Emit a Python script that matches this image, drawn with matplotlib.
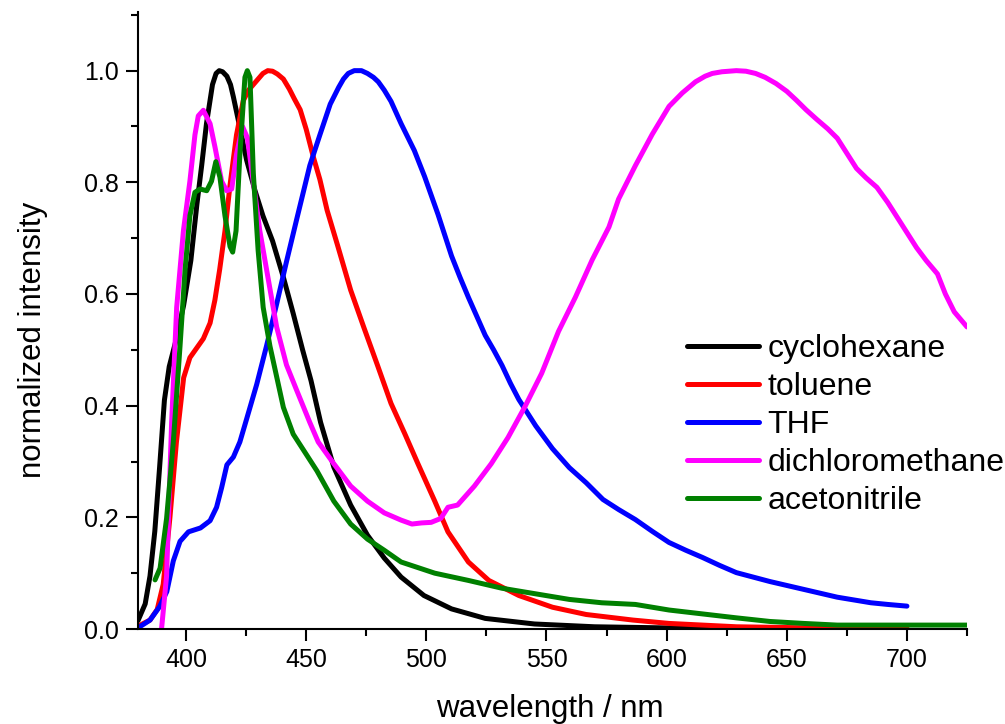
import matplotlib
matplotlib.use('Agg')
import matplotlib.pyplot as plt
from matplotlib.ticker import MultipleLocator

plt.rcParams['font.family'] = ['Liberation Sans', 'DejaVu Sans']

# cyclohexane
wl_cyc = [380, 381, 383, 385, 387, 389, 391, 393, 396, 399, 402, 404.5, 406.5, 408.5, 411,
          412.5, 413.8, 415.2, 417, 418.5, 419.7, 422.4, 425.2, 428.7, 432, 436, 440.5, 444.6,
          448.5, 452, 456, 461.5, 468.5, 475.5, 482.5, 489.5, 499, 510.5, 524.5, 545, 570,
          600, 650, 700]
int_cyc = [0.015, 0.025, 0.045, 0.095, 0.175, 0.29, 0.41, 0.47, 0.52, 0.58, 0.66, 0.76, 0.83,
           0.905, 0.975, 0.995, 1.0, 0.998, 0.99, 0.975, 0.953, 0.898, 0.84, 0.785, 0.74,
           0.695, 0.63, 0.565, 0.5, 0.445, 0.37, 0.29, 0.222, 0.168, 0.127, 0.093, 0.06,
           0.036, 0.019, 0.009, 0.004, 0.002, 0.001, 0.0]

# toluene
wl_tol = [380, 385, 388, 390.5, 393.3, 396, 399, 401.6, 404.4, 407.2, 410, 412, 414, 416.2,
          418.3, 421, 423.8, 426, 428, 430, 432, 434, 436, 438, 440.5, 443, 445, 447.5, 450,
          453, 455.7, 458.7, 463, 468.5, 474, 479.7, 485.3, 491, 496.5, 503.5, 509, 517.5,
          526, 538.5, 552.5, 566.5, 586, 601, 629, 660, 700]
int_tol = [0.005, 0.016, 0.035, 0.08, 0.2, 0.335, 0.45, 0.486, 0.503, 0.52, 0.548, 0.589,
           0.644, 0.713, 0.795, 0.885, 0.946, 0.965, 0.975, 0.985, 0.995, 1.0, 0.999, 0.994,
           0.985, 0.967, 0.95, 0.93, 0.895, 0.845, 0.805, 0.75, 0.688, 0.607, 0.54, 0.472,
           0.404, 0.35, 0.296, 0.229, 0.174, 0.12, 0.087, 0.06, 0.039, 0.026, 0.016, 0.01,
           0.004, 0.002, 0.001]

# THF
wl_thf = [380, 385, 389, 392, 394.7, 397.5, 401, 406, 410, 412.7, 414.8, 417, 419.7, 422.4,
          425.2, 429.4, 433.5, 437.7, 441.8, 446, 451.5, 455.7, 460, 463.5, 465.5, 467.5,
          470, 473, 475.5, 478, 480, 482.5, 485.3, 489.5, 495, 499.3, 504.9, 510.5, 514,
          517.5, 521, 524.5, 528, 531.5, 535, 538.5, 545.5, 552.5, 559.5, 566.5, 573.5, 580,
          587, 594, 601, 608, 615, 622, 629, 636, 643, 650, 657, 664, 671, 678, 685, 692,
          700]
int_thf = [0.002, 0.016, 0.04, 0.067, 0.122, 0.157, 0.174, 0.181, 0.194, 0.218, 0.253, 0.294,
           0.308, 0.335, 0.376, 0.438, 0.507, 0.582, 0.658, 0.733, 0.83, 0.885, 0.94, 0.97,
           0.985, 0.995, 1.0, 1.0, 0.995, 0.988, 0.98, 0.965, 0.945, 0.905, 0.857, 0.81,
           0.742, 0.668, 0.63, 0.594, 0.56, 0.526, 0.5, 0.472, 0.44, 0.411, 0.364, 0.323,
           0.289, 0.262, 0.232, 0.214, 0.196, 0.175, 0.155, 0.141, 0.128, 0.114, 0.101,
           0.093, 0.085, 0.078, 0.071, 0.064, 0.057, 0.052, 0.047, 0.044, 0.041]

# dichloromethane
wl_dcm = [389.8, 391.9, 394, 396.1, 398.9, 401.6, 403.7, 405.1, 407.2, 410, 412, 414.8, 416.9,
          419, 421, 423.5, 425.5, 428, 430.7, 433.5, 437.7, 441.8, 446, 451.5, 455, 461.5,
          468.5, 475.5, 482.5, 489.5, 494, 498, 502, 506, 509, 513, 520, 527, 534, 541, 548,
          555, 562, 569, 576, 580, 587, 594, 601, 606.5, 612, 616, 619, 623, 629, 633, 637,
          641, 645.5, 650, 654, 658, 662.4, 667, 671, 675, 679, 683, 687.5, 692, 696, 700,
          704, 708, 712.7, 716, 719.7, 725]
int_dcm = [0.0, 0.095, 0.37, 0.576, 0.713, 0.802, 0.885, 0.919, 0.929, 0.905, 0.864, 0.802,
           0.785, 0.788, 0.85, 0.9, 0.88, 0.8, 0.713, 0.644, 0.541, 0.473, 0.428, 0.37, 0.335,
           0.296, 0.256, 0.229, 0.208, 0.195, 0.188, 0.19, 0.191, 0.198, 0.218, 0.222, 0.256,
           0.296, 0.343, 0.398, 0.458, 0.533, 0.594, 0.661, 0.72, 0.77, 0.83, 0.886, 0.936,
           0.96, 0.98, 0.99, 0.995, 0.998, 1.0, 0.999, 0.995, 0.988, 0.977, 0.963, 0.947,
           0.93, 0.913, 0.896, 0.879, 0.852, 0.825, 0.808, 0.791, 0.764, 0.737, 0.71, 0.683,
           0.66, 0.636, 0.6, 0.568, 0.541]

# acetonitrile
wl_acn = [387.1, 389.2, 391.9, 394.7, 397.5, 399.6, 401.6, 403.7, 405.8, 408.6, 410.6, 412.4,
          414.1, 416.2, 418.3, 419.4, 420.8, 422.4, 424.5, 425.5, 426.6, 428, 430, 432.1,
          434.9, 437.7, 440.5, 444.6, 448.8, 454.5, 461.5, 468.5, 475.5, 482.5, 489.5, 503.5,
          517.5, 531.5, 545.5, 559.5, 573, 587, 601, 615, 629, 643, 657, 671, 699, 725]
int_acn = [0.088, 0.109, 0.198, 0.335, 0.507, 0.644, 0.74, 0.782, 0.788, 0.785, 0.802, 0.837,
           0.809, 0.74, 0.685, 0.675, 0.713, 0.85, 0.988, 1.0, 0.988, 0.816, 0.678, 0.576,
           0.507, 0.452, 0.397, 0.349, 0.321, 0.283, 0.229, 0.188, 0.161, 0.141, 0.12, 0.1,
           0.087, 0.073, 0.063, 0.053, 0.047, 0.044, 0.034, 0.027, 0.02, 0.0135, 0.01, 0.007,
           0.007, 0.007]

series = [
    ('cyclohexane', wl_cyc, int_cyc, 'black'),
    ('toluene', wl_tol, int_tol, '#ff0000'),
    ('THF', wl_thf, int_thf, '#0000ff'),
    ('dichloromethane', wl_dcm, int_dcm, '#ff00ff'),
    ('acetonitrile', wl_acn, int_acn, '#008000'),
]

fig = plt.figure(figsize=(10.05, 7.24), dpi=100)
ax = fig.add_axes([0.1373, 0.1312, 0.8249, 0.8522])

for name, x, y, c in series:
    ax.plot(x, y, color=c, lw=3.6, label=name, solid_capstyle='round',
            solid_joinstyle='round')

ax.set_xlim(380, 725)
ax.set_ylim(0, 1.105)
ax.spines['top'].set_visible(False)
ax.spines['right'].set_visible(False)
ax.spines['left'].set_linewidth(1.5)
ax.spines['bottom'].set_linewidth(1.5)

ax.xaxis.set_major_locator(MultipleLocator(50))
ax.xaxis.set_minor_locator(MultipleLocator(25))
ax.yaxis.set_major_locator(MultipleLocator(0.2))
ax.yaxis.set_minor_locator(MultipleLocator(0.1))
ax.yaxis.set_major_formatter(plt.FuncFormatter(lambda v, p: '%.1f' % v))
ax.tick_params(which='major', direction='out', length=8.5, width=1.5, labelsize=18, pad=5)
ax.tick_params(which='minor', direction='out', length=5, width=1.5)

ax.set_xlabel('wavelength / nm', fontsize=22.5)
ax.xaxis.set_label_coords(0.497, -0.105)
ax.set_ylabel('normalized intensity', fontsize=22.5)
ax.yaxis.set_label_coords(-0.108, 0.468)

ax.legend(loc='upper left', bbox_to_anchor=(0.684, 0.539), bbox_transform=fig.transFigure,
          frameon=False, fontsize=23, handlelength=2.25, handletextpad=0.25,
          labelspacing=0.25, borderpad=0, borderaxespad=0)

fig.savefig('out.png', dpi=100)
